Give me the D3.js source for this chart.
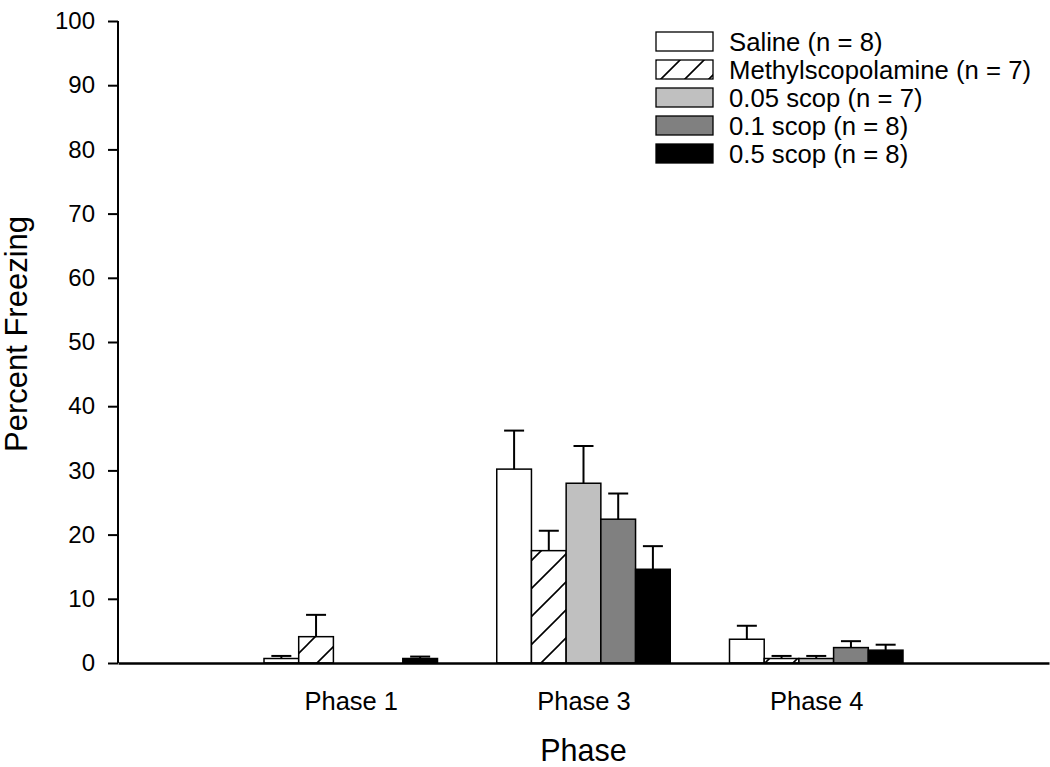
<!DOCTYPE html>
<html>
<head>
<meta charset="utf-8">
<script src="https://cdn.jsdelivr.net/npm/d3@7"></script>
<style>
	body { margin: 0; background: #fff; }
	text { font-family: "Liberation Sans", Arial, sans-serif; fill: #000; }
</style>
</head>
<body>
<div id="chart"></div>
<script>
// Data
const phases = ["Phase 1", "Phase 3", "Phase 4"];
const groups = ["Saline (n = 8)", "Methylscopolamine (n = 7)", "0.05 scop (n = 7)", "0.1 scop (n = 8)", "0.5 scop (n = 8)"];
// mean percent freezing, one array per group, in phase order
const saline = [0.7, 30.2, 3.7];
const methyl = [4.1, 17.5, 0.7];
const scop005 = [0, 28.0, 0.7];
const scop01 = [0, 22.4, 2.4];
const scop05 = [0.7, 14.6, 2.0];
// upper error (SEM), same order
const salineErr = [0.4, 6.0, 2.1];
const methylErr = [3.4, 3.1, 0.4];
const scop005Err = [0, 5.8, 0.4];
const scop01Err = [0, 4.0, 1.0];
const scop05Err = [0.3, 3.6, 0.85];
const yTicks = [0, 10, 20, 30, 40, 50, 60, 70, 80, 90, 100];

(function (d3) {
	"use strict";

	const width = 1050, height = 767;
	const means = [saline, methyl, scop005, scop01, scop05];
	const errs = [salineErr, methylErr, scop005Err, scop01Err, scop05Err];
	const fills = ["#ffffff", "url(#hatch)", "#c0c0c0", "#808080", "#000000"];
	const legendFills = ["#ffffff", "url(#hatchSmall)", "#c0c0c0", "#808080", "#000000"];

	const svg = d3.select("#chart").append("svg")
		.attr("width", width)
		.attr("height", height);

	// hatch patterns
	const defs = svg.append("defs");
	function addHatch(id, s) {
		const p = defs.append("pattern")
			.attr("id", id)
			.attr("patternUnits", "userSpaceOnUse")
			.attr("width", s).attr("height", s);
		p.append("rect").attr("width", s).attr("height", s).attr("fill", "#fff");
		p.append("path")
			.attr("d", `M0,${s} L${s},0 M${-s / 4},${s / 4} L${s / 4},${-s / 4} M${s * 3 / 4},${s * 5 / 4} L${s * 5 / 4},${s * 3 / 4}`)
			.attr("stroke", "#000").attr("stroke-width", 1.6);
	}
	addHatch("hatch", 28);
	addHatch("hatchSmall", 24);

	// scales
	const x = d3.scalePoint().domain(["", ...phases, " "]).range([118, 1049]);
	const barW = 34.7;
	const xInner = d3.scaleBand().domain(groups).range([-barW * 2.5, barW * 2.5]).padding(0);
	const y = d3.scaleLinear().domain([0, 100]).range([663, 21]);

	// bars
	groups.forEach((g, gi) => {
		const rows = phases.map((p, pi) => ({ phase: p, v: means[gi][pi], e: errs[gi][pi] }));
		const grp = svg.append("g");
		grp.selectAll("rect")
			.data(rows.filter(d => d.v > 0))
			.enter().append("rect")
			.attr("x", d => x(d.phase) + xInner(g))
			.attr("y", d => y(d.v))
			.attr("width", xInner.bandwidth())
			.attr("height", d => y(0) - y(d.v))
			.attr("fill", fills[gi])
			.attr("stroke", "#000")
			.attr("stroke-width", 1.5);
		// error bars (upper only)
		const eb = grp.selectAll("g.err")
			.data(rows.filter(d => d.e > 0))
			.enter().append("g").attr("class", "err");
		eb.append("line")
			.attr("x1", d => x(d.phase) + xInner(g) + xInner.bandwidth() / 2)
			.attr("x2", d => x(d.phase) + xInner(g) + xInner.bandwidth() / 2)
			.attr("y1", d => y(d.v))
			.attr("y2", d => y(d.v + d.e))
			.attr("stroke", "#000").attr("stroke-width", 2);
		eb.append("line")
			.attr("x1", d => x(d.phase) + xInner(g) + xInner.bandwidth() / 2 - 10)
			.attr("x2", d => x(d.phase) + xInner(g) + xInner.bandwidth() / 2 + 10)
			.attr("y1", d => y(d.v + d.e))
			.attr("y2", d => y(d.v + d.e))
			.attr("stroke", "#000").attr("stroke-width", 2);
	});

	// y axis
	const yAxis = d3.axisLeft(y).tickValues(yTicks).tickSize(10).tickPadding(13);
	const yG = svg.append("g").attr("transform", "translate(118,0)").call(yAxis);
	yG.select(".domain").attr("stroke-width", 2).attr("d", "M0,21V663");
	yG.selectAll(".tick line").attr("stroke-width", 2);
	yG.selectAll(".tick text")
		.style("font-family", "Liberation Sans, Arial, sans-serif")
		.style("font-size", "24px");

	// x axis
	const xAxis = d3.axisBottom(x).tickValues(phases).tickSize(0).tickPadding(29);
	const xG = svg.append("g").attr("transform", "translate(0,663)").call(xAxis);
	xG.select(".domain").attr("stroke-width", 2.5);
	xG.selectAll(".tick text")
		.style("font-family", "Liberation Sans, Arial, sans-serif")
		.style("font-size", "25.5px");

	// titles
	svg.append("text")
		.attr("x", x(phases[1]))
		.attr("y", 761)
		.attr("text-anchor", "middle")
		.style("font-size", "30.5px")
		.text("Phase");
	svg.append("text")
		.attr("transform", "translate(27,334) rotate(-90)")
		.attr("text-anchor", "middle")
		.style("font-size", "31px")
		.text("Percent Freezing");

	// legend
	const legend = svg.append("g").attr("transform", "translate(656,32)");
	const item = legend.selectAll("g")
		.data(groups)
		.enter().append("g")
		.attr("transform", (d, i) => `translate(0,${i * 28})`);
	item.append("rect")
		.attr("width", 57).attr("height", 19)
		.attr("fill", (d, i) => legendFills[i])
		.attr("stroke", "#000").attr("stroke-width", 1.3);
	item.append("text")
		.attr("x", 73).attr("y", 10)
		.attr("dominant-baseline", "central")
		.style("font-size", "25.7px")
		.text(d => d);
})(d3);
</script>
</body>
</html>
